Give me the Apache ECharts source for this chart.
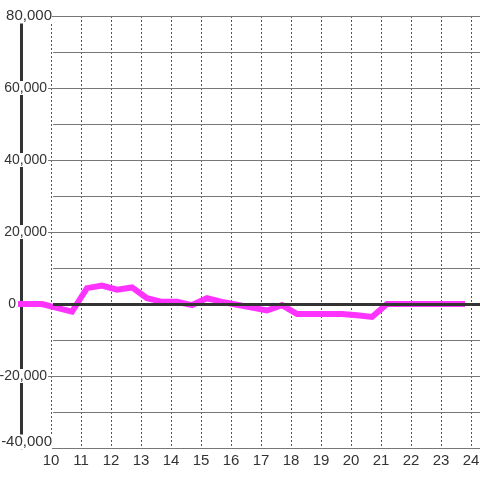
<!DOCTYPE html>
<html>
<head>
<meta charset="utf-8">
<script src="https://cdn.jsdelivr.net/npm/echarts@6/dist/echarts.min.js"></script>
<style>html,body{margin:0;padding:0;background:#fff;}#c{width:480px;height:480px;}</style>
</head>
<body>
<div id="c"></div>
<script>
var xValues = [8.87, 9.2, 9.7, 10.2, 10.7, 11.2, 11.7, 12.2, 12.7, 13.2, 13.7, 14.2, 14.7, 15.2, 15.7, 16.2, 16.7, 17.2, 17.7, 18.2, 18.7, 19.2, 19.7, 20.2, 20.7, 21.2, 21.7, 22.2, 22.7, 23.2, 23.8];
var yValues = [0, 0, 0, -1100, -2100, 4400, 5100, 4000, 4600, 1600, 600, 600, -300, 1600, 600, -200, -1000, -1800, -300, -2800, -2800, -2800, -2800, -3100, -3600, 0, 0, 0, 0, 0, 0];
var yTicks = [-40000, -20000, 0, 20000, 40000, 60000, 80000];
var xTicks = [10, 11, 12, 13, 14, 15, 16, 17, 18, 19, 20, 21, 22, 23, 24];

var FONT = 'Liberation Sans, Arial, sans-serif';
var pts = xValues.map(function (x, i) { return [x, yValues[i]]; });
function fmt(v) { return v.toLocaleString('en-US'); }

var chart = echarts.init(document.getElementById('c'));
chart.setOption({
  animation: false,
  backgroundColor: '#fff',
  grid: [
    { left: 21, right: 0, top: 16, bottom: 32, containLabel: false, outerBoundsMode: 'none' },
    { left: 53, right: 0, top: 16, bottom: 32, containLabel: false, outerBoundsMode: 'none' }
  ],
  xAxis: [
    {
      type: 'value', gridIndex: 0, min: 9, max: 24.3, interval: 1,
      axisLine: { show: false }, axisTick: { show: false },
      axisLabel: {
        showMinLabel: false, showMaxLabel: false, margin: 5,
        color: '#333', fontSize: 15, fontFamily: FONT,
        formatter: function (v) { return xTicks.indexOf(v) >= 0 ? String(v) : ''; }
      },
      splitLine: { show: true, lineStyle: { color: '#555', width: 1, type: [2, 2] } }
    },
    {
      type: 'value', gridIndex: 1, min: 0, max: 1, show: false
    }
  ],
  yAxis: [
    {
      type: 'value', gridIndex: 0, min: -40000, max: 80000, interval: 20000, z: 1,
      axisLine: { show: true, lineStyle: { color: '#333', width: 3 } },
      axisTick: { show: false },
      splitLine: { show: false },
      axisLabel: { show: false }
    },
    {
      type: 'value', gridIndex: 1, min: -40000, max: 80000, interval: 20000, z: 2,
      axisLine: { show: false },
      axisTick: { show: true, length: 5, lineStyle: { color: '#777', width: 1 } },
      minorTick: { show: false, splitNumber: 2 },
      splitLine: { show: true, lineStyle: { color: '#777', width: 1 } },
      minorSplitLine: { show: true, lineStyle: { color: '#777', width: 1 } },
      axisLabel: {
        margin: 1,
        formatter: function (v) {
          if (yTicks.indexOf(v) < 0) return '';
          if (v === 0) return '{z|' + fmt(v) + '}';
          if (v === yTicks[0]) return '{b|' + fmt(v) + '}\n{s| }';
          if (v === yTicks[yTicks.length - 1]) return '{b|' + fmt(v) + '}';
          return '{a|' + fmt(v) + '}{p| }';
        },
        rich: {
          a: { color: '#333', fontSize: 14, fontFamily: FONT, lineHeight: 14, backgroundColor: '#fff' },
          b: { color: '#333', fontSize: 15, fontFamily: FONT, lineHeight: 14, backgroundColor: '#fff' },
          p: { fontSize: 14, lineHeight: 14, width: 5 },
          z: { color: '#333', fontSize: 14, fontFamily: FONT, lineHeight: 14, padding: [0, 36, 0, 0] },
          s: { fontSize: 12, lineHeight: 12, height: 12 }
        }
      }
    }
  ],
  series: [
    {
      type: 'line', xAxisIndex: 1, yAxisIndex: 1, data: [], silent: true, z: 1,
      markLine: {
        silent: true, symbol: 'none', label: { show: false },
        lineStyle: { color: '#333', width: 3, type: 'solid' },
        data: [{ yAxis: 0 }]
      }
    },
    {
      type: 'line', xAxisIndex: 0, yAxisIndex: 0, data: pts, clip: false,
      showSymbol: false, symbol: 'none', z: 3,
      lineStyle: { color: '#ff33ff', width: 6, cap: 'butt', join: 'miter' }
    }
  ]
});
</script>
</body>
</html>
